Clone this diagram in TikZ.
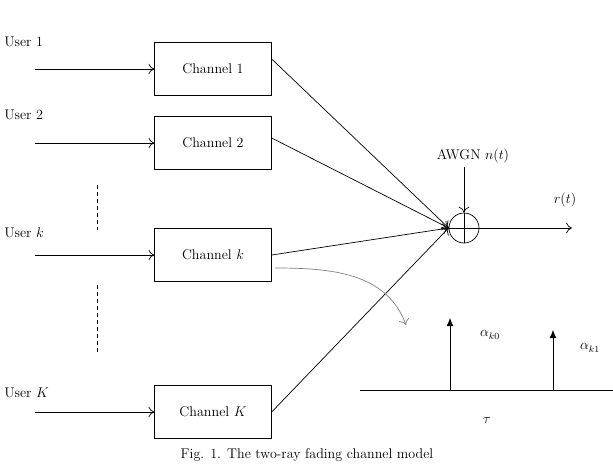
\documentclass[tikz,border=0pt]{standalone}
\usepackage{tikz}
\usetikzlibrary{arrows.meta}
\tikzstyle{block} = [rectangle, minimum width=3.5cm, minimum height=1.6cm, draw=black, font=\large]
\tikzstyle{arrow} = [-{To[length=5pt,width=9pt]}]
\tikzstyle{spike} = [-{Latex[length=7pt,width=6pt]}]
\tikzstyle{lbl} = [font=\large]
\begin{document}
\begin{tikzpicture}[x=0.03cm, y=-0.03cm, line width=0.6pt]
\useasboundingbox (0,0) rectangle (613,473);
% Canali
\node (ch1) [block] at (213,69) {Channel 1};
\node (ch2) [block] at (213,143) {Channel 2};
\node (chk) [block] at (213,255) {Channel $k$};
\node (chK) [block] at (213,412) {Channel $K$};
% Utenti
\node (u1) [lbl, anchor=west] at (0,42) {User 1};
\node (u2) [lbl, anchor=west] at (0,115) {User 2};
\node (uk) [lbl, anchor=west] at (0,233) {User $k$};
\node (uK) [lbl, anchor=west] at (0,393) {User $K$};
\coordinate (i1) at (35,69);
\coordinate (i2) at (35,143);
\coordinate (ik) at (35,255);
\coordinate (iK) at (35,412);
\draw [arrow] (i1) -- (ch1);
\draw [arrow] (i2) -- (ch2);
\draw [arrow] (ik) -- (chk);
\draw [arrow] (iK) -- (chK);
\draw [dashed] (97,185) -- (97,230);
\draw [dashed] (97,285) -- (97,355);
% Sommatore
\node (sum) [circle, draw, minimum size=0.9cm, inner sep=0pt] at (464,228) {};
\draw (sum.north) -- (sum.south) (sum.west) -- (sum.east);
\node (awgn) [lbl] at (473,156) {AWGN $n(t)$};
\coordinate (nt) at (464,167);
\coordinate (out) at (572,228);
\node (rt) [lbl] at (565,200) {$r(t)$};
\draw [arrow] (nt) -- (sum.north);
\draw [arrow] (sum) -- (out);
\draw [arrow] (ch1.east) ++(0,-10) -- (sum.west);
\draw [arrow] (ch2.east) ++(0,-5) -- (sum.west);
\draw [arrow] (chk.east) -- (sum.west);
\draw [arrow] (chK.east) -- (sum.west);
% Risposta impulsiva
\coordinate (bk) at (275,268);
\coordinate (ck) at (406,325);
\draw [arrow, gray] (bk) to[out=0, in=110] (ck);
\coordinate (a0) at (450,390);
\coordinate (a0t) at (450,318);
\coordinate (a1) at (553,390);
\coordinate (a1t) at (553,330);
\draw (360,390) -- (613,390);
\draw [spike] (a0) -- (a0t);
\draw [spike] (a1) -- (a1t);
\node (al0) [lbl] at (490,335) {$\alpha_{k0}$};
\node (al1) [lbl] at (590,348) {$\alpha_{k1}$};
\node (tau) [lbl] at (487,420) {$\tau$};
\node (cap) [lbl] at (307,455) {Fig. 1. The two-ray fading channel model};
\end{tikzpicture}
\end{document}
